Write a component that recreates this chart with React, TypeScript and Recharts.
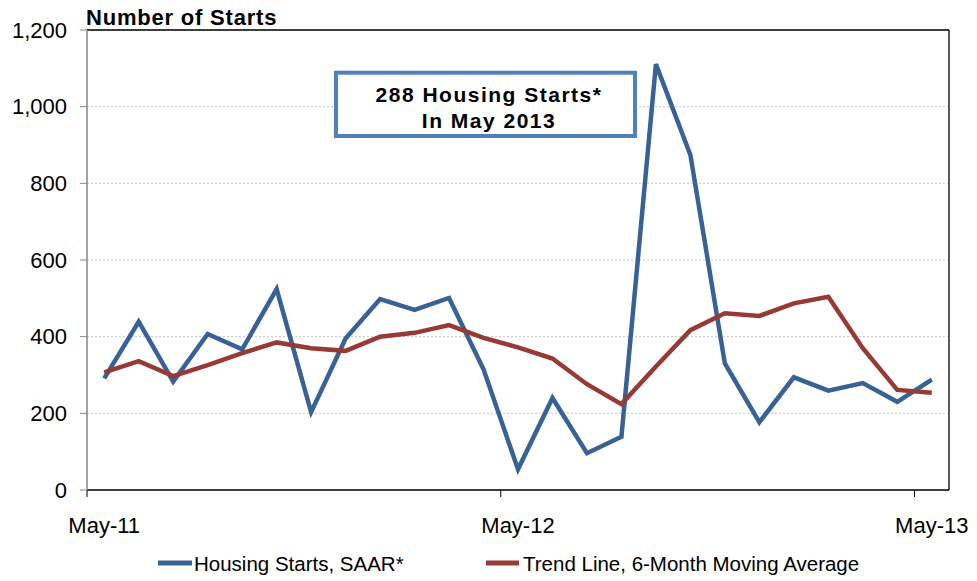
import React from 'react';
import { LineChart, Line, XAxis, YAxis, CartesianGrid, ReferenceLine } from 'recharts';

const months = [
  'May-11', 'Jun-11', 'Jul-11', 'Aug-11', 'Sep-11', 'Oct-11', 'Nov-11', 'Dec-11',
  'Jan-12', 'Feb-12', 'Mar-12', 'Apr-12', 'May-12', 'Jun-12', 'Jul-12', 'Aug-12',
  'Sep-12', 'Oct-12', 'Nov-12', 'Dec-12', 'Jan-13', 'Feb-13', 'Mar-13', 'Apr-13', 'May-13',
];
const housingStarts = [
  291, 439, 283, 407, 367, 524, 203, 395, 498, 470, 501, 315,
  54, 240, 96, 139, 1111, 874, 330, 177, 294, 259, 279, 230, 288,
];
const trendLine = [
  307, 336, 297, 326, 357, 385, 370, 363, 400, 410, 430, 397,
  372, 343, 276, 224, 322, 417, 461, 454, 487, 504, 370, 261, 254,
];
const yTicks = [0, 200, 400, 600, 800, 1000, 1200];
const xBoundaryTicks = [-0.5, 11.5, 23.5];
const seriesNames = ['Housing Starts, SAAR*', 'Trend Line, 6-Month Moving Average'];
const chartTitle = 'Number of Starts';
const noteLines = ['288 Housing Starts*', 'In May 2013'];

const data = months.map((m, i) => ({
  idx: i,
  month: m,
  starts: housingStarts[i],
  trend: trendLine[i],
}));

const W = 977;
const H = 581;
const LEFT = 87;
const RIGHT_MARGIN = 28;
const HALF = (W - LEFT - RIGHT_MARGIN) / months.length / 2;
const BLUE = '#386296';
const RED = '#963A36';
const FONT = '"Liberation Sans", Arial, Helvetica, sans-serif';

const XTick = (props: any) => {
  const { x, y, payload } = props;
  const label = months[payload.value + 0.5];
  return (
    <text x={x + HALF} y={y} dy="0.71em" textAnchor="middle" fontSize={22} fill="#000" fontFamily={FONT}>
      {label}
    </text>
  );
};

export default function App() {
  return (
    <div style={{ position: 'absolute', left: 0, top: 0, width: W, height: H, background: '#fff', fontFamily: FONT }}>
      <LineChart width={W} height={H} data={data} margin={{ top: 30, right: RIGHT_MARGIN, bottom: 31, left: 0 }}>
        <CartesianGrid horizontal vertical={false} stroke="#C4C4C4" strokeDasharray="2 2" />
        <XAxis
          dataKey="idx"
          type="number"
          domain={[-0.5, 24.5]}
          ticks={xBoundaryTicks}
          interval={0}
          height={60}
          tickSize={7}
          tickMargin={20}
          axisLine={{ stroke: '#000', strokeWidth: 1.5 }}
          tickLine={{ stroke: '#000' }}
          tick={<XTick />}
        />
        <YAxis
          domain={[0, 1200]}
          ticks={yTicks}
          interval={0}
          width={LEFT}
          tickSize={7}
          tickMargin={13}
          axisLine={{ stroke: '#868686', strokeWidth: 1.5 }}
          tickLine={{ stroke: '#868686' }}
          tick={{ fontSize: 22, fill: '#000', fontFamily: FONT }}
          tickFormatter={(v: number) => v.toLocaleString('en-US')}
        />
        <ReferenceLine y={1200} stroke="#000" strokeWidth={1.5} />
        <ReferenceLine x={24.5} stroke="#222" strokeWidth={1.5} />
        <Line
          type="linear"
          dataKey="starts"
          name={seriesNames[0]}
          stroke={BLUE}
          strokeWidth={4.5}
          dot={false}
          activeDot={false}
          isAnimationActive={false}
        />
        <Line
          type="linear"
          dataKey="trend"
          name={seriesNames[1]}
          stroke={RED}
          strokeWidth={4.5}
          dot={false}
          activeDot={false}
          isAnimationActive={false}
        />
      </LineChart>
      <svg
        width={W}
        height={H}
        style={{ position: 'absolute', left: 0, top: 0, pointerEvents: 'none' }}
      >
        <text x={86} y={25} fontSize={22} fontWeight="bold" letterSpacing={0.8} fill="#000" fontFamily={FONT}>
          {chartTitle}
        </text>
        <rect x={336} y={72.7} width={299} height={63.3} fill="#fff" stroke="#4F81BD" strokeWidth={4} />
        <text x={489} y={102} textAnchor="middle" fontSize={21} fontWeight="bold" letterSpacing={1.5} fill="#000" fontFamily={FONT}>
          {noteLines[0]}
        </text>
        <text x={489} y={128} textAnchor="middle" fontSize={21} fontWeight="bold" letterSpacing={1.5} fill="#000" fontFamily={FONT}>
          {noteLines[1]}
        </text>
        <line x1={158} x2={192} y1={563} y2={563} stroke={BLUE} strokeWidth={5} />
        <text x={194} y={570.5} fontSize={20.5} fill="#000" fontFamily={FONT}>
          {seriesNames[0]}
        </text>
        <line x1={486} x2={519} y1={563} y2={563} stroke={RED} strokeWidth={5} />
        <text x={523} y={570.5} fontSize={20.5} fill="#000" fontFamily={FONT}>
          {seriesNames[1]}
        </text>
      </svg>
    </div>
  );
}
